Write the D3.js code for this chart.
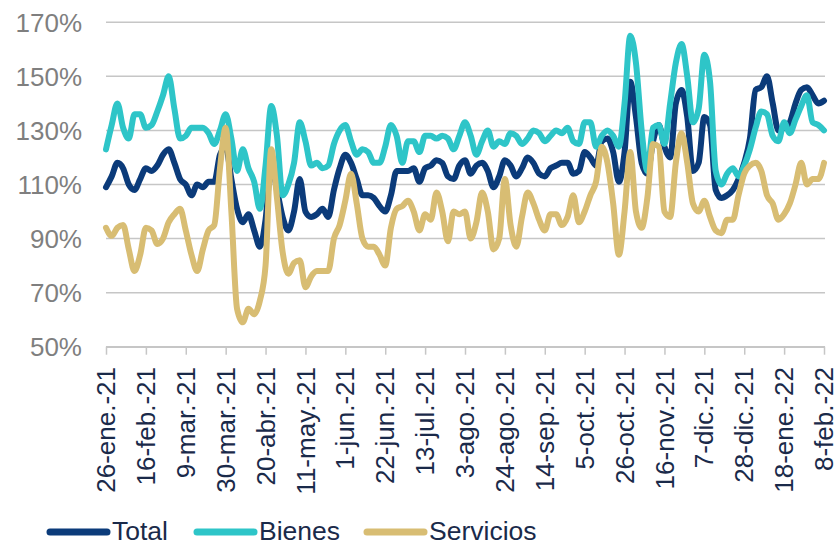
<!DOCTYPE html>
<html>
<head>
<meta charset="utf-8">
<script src="https://cdn.jsdelivr.net/npm/d3@7"></script>
<style>
  body { margin: 0; background: #fff; }
  svg { display: block; font-family: "Liberation Sans", Arial, sans-serif; }
</style>
</head>
<body>
<svg id="chart" width="836" height="544"></svg>
<script>
// one point every 3 days starting 26-ene-21
var startDate = new Date(2021, 0, 26);
var stepDays = 3;

var total = [
  109, 113, 118, 116, 110, 108, 112, 116, 115, 117, 121, 123, 118, 112, 110, 106,
  110, 109, 111, 111, 121, 124, 112, 101, 96, 99, 93, 87, 97, 118, 108, 98,
  93, 100, 112, 100, 98, 99, 101, 98, 108, 116, 121, 118, 112, 106, 106, 105,
  102, 100, 106, 115, 115, 115, 116, 111, 116, 117, 119, 118, 113, 112, 117, 119,
  114, 117, 118, 115, 109, 113, 119, 117, 113, 116, 120, 118, 114, 113, 116,
  117, 118, 118, 114, 115, 122, 120, 117, 126, 127, 122, 111, 122, 148, 135, 118,
  114, 126, 132, 124, 120, 140, 145, 135, 115, 118, 135, 132, 108, 105, 106, 108,
  112, 118, 127, 145, 146, 150, 140, 130, 131, 133, 140, 145, 146, 143, 140, 141
];
var bienes = [
  123, 132, 140, 131, 127, 136, 136, 131, 132, 137, 143, 150, 138, 127, 128, 131,
  131, 131, 129, 125, 130, 136, 127, 115, 123, 116, 111, 101, 117, 139, 128, 106,
  110, 118, 133, 126, 117, 118, 116, 117, 125, 130, 132, 126, 121, 123, 122, 118,
  118, 124, 132, 128, 118, 126, 126, 122, 128, 128, 127, 128, 127, 123, 128, 133,
  128, 121, 126, 130, 124, 126, 125, 129, 128, 125, 127, 130, 129, 126, 128,
  130, 129, 131, 126, 125, 133, 133, 124, 128, 130, 128, 124, 140, 165, 155, 130,
  115, 131, 132, 125, 140, 155, 162, 150, 133, 138, 158, 148, 115, 110, 114, 116,
  113, 117, 123, 131, 137, 136, 128, 126, 133, 129, 134, 139, 143, 133, 132, 130
];
var servicios = [
  94, 91, 94, 95, 86, 78, 84, 94, 93, 88, 90, 96, 99, 101, 93, 84,
  78, 86, 93, 95, 116, 131, 100, 64, 59, 64, 62, 67, 80, 123, 105, 85,
  77, 81, 82, 72, 76, 78, 78, 78, 90, 95, 104, 114, 103, 90, 87, 87,
  84, 80, 94, 101, 102, 104, 100, 93, 99, 97, 107, 100, 89, 100, 99, 100,
  90, 96, 107, 100, 86, 90, 112, 95, 87, 98, 107, 103, 97, 93, 99,
  99, 95, 98, 106, 96, 100, 106, 111, 124, 118, 103, 84, 100, 122, 100, 94,
  105, 125, 124, 100, 98, 118, 129, 118, 103, 100, 104, 98, 93, 92, 97, 97,
  106, 114, 117, 118, 115, 106, 103, 97, 99, 103, 110, 118, 110, 112, 112, 118
];

var tickLabels = ['26-ene.-21', '16-feb.-21', '9-mar.-21', '30-mar.-21', '20-abr.-21',
  '11-may.-21', '1-jun.-21', '22-jun.-21', '13-jul.-21', '3-ago.-21', '24-ago.-21',
  '14-sep.-21', '5-oct.-21', '26-oct.-21', '16-nov.-21', '7-dic.-21', '28-dic.-21',
  '18-ene.-22', '8-feb.-22'];
var tickStepDays = 21;
var yTicks = [50, 70, 90, 110, 130, 150, 170];

var seriesNames = ['Total', 'Bienes', 'Servicios'];
var seriesColors = ['#0b3b7a', '#2ec5c8', '#d8bd73'];

var svg = d3.select('#chart');

function addDays(d, n) {
  var r = new Date(d);
  r.setDate(r.getDate() + n);
  return r;
}

var dates = total.map((v, i) => addDays(startDate, i * stepDays));
var tickDates = tickLabels.map((l, i) => addDays(startDate, i * tickStepDays));

var x = d3.scaleTime()
  .domain([startDate, tickDates[tickDates.length - 1]])
  .range([106, 824]);
var y = d3.scaleLinear()
  .domain([50, 170])
  .range([346.7, 22.3]);

// gridlines
svg.append('g')
  .selectAll('line')
  .data(yTicks)
  .enter()
  .append('line')
    .attr('x1', 106)
    .attr('x2', 825)
    .attr('y1', d => y(d))
    .attr('y2', d => y(d))
    .attr('stroke', '#c6c6c6')
    .attr('stroke-width', 1.5);

// y labels
svg.append('g')
  .selectAll('text')
  .data(yTicks)
  .enter()
  .append('text')
    .attr('x', 82)
    .attr('y', d => y(d))
    .attr('dy', '0.36em')
    .attr('text-anchor', 'end')
    .attr('fill', '#7f7f7f')
    .style('font-size', '26px')
    .text(d => d + '%');

// x axis
var xAxis = d3.axisBottom(x)
  .tickValues(tickDates)
  .tickSize(8)
  .tickSizeOuter(0)
  .tickFormat('');
var axisG = svg.append('g')
  .attr('transform', `translate(0, ${y(50)})`)
  .call(xAxis);
axisG.select('.domain').attr('stroke', '#c6c6c6').attr('stroke-width', 1.5);
axisG.selectAll('.tick line').attr('stroke', '#c6c6c6').attr('stroke-width', 1.5);

svg.append('g')
  .selectAll('text')
  .data(tickDates)
  .enter()
  .append('text')
    .attr('transform', d => `translate(${x(d)}, 367) rotate(-90)`)
    .attr('dy', '0.35em')
    .attr('text-anchor', 'end')
    .attr('fill', '#1a2a4a')
    .style('font-size', '26px')
    .text((d, i) => tickLabels[i]);

// lines
var line = d3.line()
  .x((d, i) => x(dates[i]))
  .y(d => y(d))
  .curve(d3.curveMonotoneX);

[total, bienes, servicios].forEach((s, i) => {
  svg.append('path')
    .datum(s)
    .attr('d', line)
    .attr('fill', 'none')
    .attr('stroke', seriesColors[i])
    .attr('stroke-width', 6)
    .attr('stroke-linejoin', 'round')
    .attr('stroke-linecap', 'round');
});

// legend
var legendX = [50, 197, 367];
var legend = svg.append('g');
seriesNames.forEach((name, i) => {
  legend.append('line')
    .attr('x1', legendX[i])
    .attr('x2', legendX[i] + 57)
    .attr('y1', 532)
    .attr('y2', 532)
    .attr('stroke', seriesColors[i])
    .attr('stroke-width', 7)
    .attr('stroke-linecap', 'round');
  legend.append('text')
    .attr('x', legendX[i] + 62)
    .attr('y', 540)
    .attr('fill', '#1a2a4a')
    .style('font-size', '26.5px')
    .text(name);
});
</script>
</body>
</html>
